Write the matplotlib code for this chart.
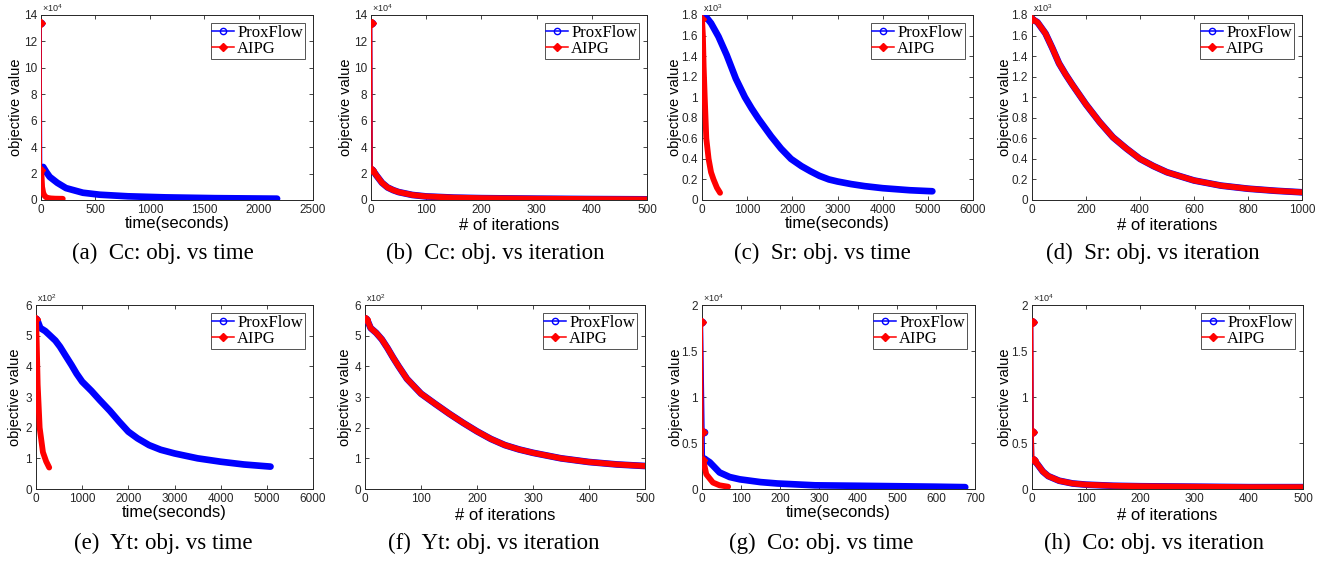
"""
Objective value vs time / iterations for ProxFlow and AIPG on four datasets.
"""
import matplotlib
matplotlib.use("Agg")
import matplotlib.pyplot as plt
from matplotlib.ticker import FuncFormatter

plt.rcParams.update(
    {
        "font.family": "sans-serif",
        "font.sans-serif": ["Liberation Sans", "DejaVu Sans"],
        "mathtext.fontset": "custom",
        "mathtext.rm": "Liberation Sans",
        "axes.linewidth": 0.7,
        "axes.edgecolor": "#262626",
        "xtick.color": "#262626",
        "ytick.color": "#262626",
    }
)

# ---- data ----
# (a) Cc, time (x10^4)
CC_TIME_PF_X = [0, 5, 20, 50, 80, 150, 230, 385, 540, 800, 1140, 1600, 2170]
CC_TIME_PF_Y = [13.4, 2.4, 2.5, 2.1, 1.75, 1.3, 0.9, 0.55, 0.4, 0.28, 0.2, 0.14, 0.1]
CC_TIME_AIPG_X = [0, 2, 5, 10, 20, 30, 45, 60, 90, 130, 200]
CC_TIME_AIPG_Y = [13.4, 2.3, 1.8, 1.0, 0.55, 0.35, 0.22, 0.16, 0.12, 0.1, 0.09]

# (b) Cc, iterations (x10^4)
CC_ITER_X = [1, 2, 5, 10, 20, 30, 40, 50, 75, 100, 150, 200, 300, 400, 500]
CC_ITER_PF_Y = [13.4, 2.3, 2.15, 1.85, 1.3, 0.95, 0.75, 0.6, 0.38, 0.27, 0.18, 0.14, 0.1, 0.07, 0.05]
CC_ITER_AIPG_Y = [13.4, 2.3, 2.15, 1.85, 1.3, 0.95, 0.75, 0.6, 0.38, 0.27, 0.18, 0.14, 0.1, 0.07, 0.05]

# (c) Sr, time (x10^3)
SR_TIME_PF_X = [20, 110, 200, 365, 547, 750, 950, 1100, 1250, 1530, 1750, 1970, 2200,
                2400, 2600, 2810, 3000, 3300, 3600, 4000, 4300, 4600, 5100]
SR_TIME_PF_Y = [1.77, 1.77, 1.72, 1.59, 1.41, 1.18, 1.0, 0.89, 0.79, 0.62, 0.5, 0.4, 0.33,
                0.28, 0.235, 0.2, 0.18, 0.155, 0.135, 0.115, 0.105, 0.095, 0.085]
SR_TIME_AIPG_X = [0, 20, 36, 60, 95, 146, 200, 255, 330, 400]
SR_TIME_AIPG_Y = [1.76, 1.6, 1.3, 1.0, 0.6, 0.4, 0.27, 0.2, 0.12, 0.07]

# (d) Sr, iterations (x10^3)
SR_ITER_X = [1, 20, 50, 75, 100, 125, 150, 200, 250, 300, 350, 400, 450, 500, 600, 700, 800, 900, 1000]
SR_ITER_PF_Y = [1.76, 1.73, 1.62, 1.48, 1.33, 1.22, 1.12, 0.93, 0.76, 0.61, 0.5, 0.40, 0.33, 0.27,
                0.19, 0.14, 0.11, 0.09, 0.075]
SR_ITER_AIPG_Y = [1.76, 1.73, 1.62, 1.48, 1.33, 1.22, 1.12, 0.93, 0.76, 0.61, 0.5, 0.40, 0.33, 0.27,
                  0.19, 0.14, 0.11, 0.09, 0.075]

# (e) Yt, time (x10^2)
YT_TIME_PF_X = [0, 30, 93, 200, 307, 420, 520, 640, 770, 880, 1000, 1200, 1380, 1600, 1800,
                2000, 2200, 2450, 2700, 3000, 3500, 4000, 4500, 5080]
YT_TIME_PF_Y = [5.55, 5.5, 5.25, 5.15, 5.0, 4.84, 4.64, 4.35, 4.04, 3.76, 3.5, 3.2, 2.9, 2.55, 2.2,
                1.87, 1.65, 1.43, 1.28, 1.16, 1.0, 0.89, 0.8, 0.73]
YT_TIME_AIPG_X = [0, 15, 36, 79, 150, 220, 286]
YT_TIME_AIPG_Y = [5.55, 4.8, 3.4, 2.0, 1.2, 0.9, 0.7]

# (f) Yt, iterations (x10^2)
YT_ITER_X = [1, 5, 10, 20, 30, 40, 50, 60, 75, 100, 125, 150, 175, 200, 225, 250, 275, 300,
             350, 400, 450, 500]
YT_ITER_PF_Y = [5.55, 5.47, 5.25, 5.09, 4.88, 4.6, 4.29, 4.0, 3.59, 3.11, 2.78, 2.46, 2.16, 1.88,
                1.63, 1.43, 1.29, 1.18, 1.0, 0.88, 0.8, 0.75]
YT_ITER_AIPG_Y = [5.55, 5.47, 5.25, 5.09, 4.88, 4.6, 4.29, 4.0, 3.59, 3.11, 2.78, 2.46, 2.16, 1.88,
                  1.63, 1.43, 1.29, 1.18, 1.0, 0.88, 0.8, 0.75]

# (g) Co, time (x10^4)
CO_TIME_PF_X = [1, 5, 6, 20, 45, 71, 97, 150, 193, 290, 400, 500, 600, 675]
CO_TIME_PF_Y = [1.82, 0.62, 0.33, 0.29, 0.18, 0.13, 0.105, 0.075, 0.06, 0.04, 0.035, 0.03, 0.025, 0.02]
CO_TIME_AIPG_X = [0.5, 2.5, 3, 11, 28, 45, 67]
CO_TIME_AIPG_Y = [1.82, 0.62, 0.32, 0.16, 0.07, 0.04, 0.025]

# (h) Co, iterations (x10^4)
CO_ITER_X = [1, 2, 3, 10, 20, 30, 50, 75, 100, 150, 200, 300, 400, 500]
CO_ITER_PF_Y = [1.82, 0.62, 0.32, 0.27, 0.19, 0.14, 0.09, 0.06, 0.047, 0.035, 0.03, 0.025, 0.02, 0.02]
CO_ITER_AIPG_Y = [1.82, 0.62, 0.32, 0.27, 0.19, 0.14, 0.09, 0.06, 0.047, 0.035, 0.03, 0.025, 0.02, 0.02]

CAPTIONS = [
    "(a)  Cc: obj. vs time", "(b)  Cc: obj. vs iteration",
    "(c)  Sr: obj. vs time", "(d)  Sr: obj. vs iteration",
    "(e)  Yt: obj. vs time", "(f)  Yt: obj. vs iteration",
    "(g)  Co: obj. vs time", "(h)  Co: obj. vs iteration",
]

W, H = 1324, 561
BLUE, RED = "#0000ff", "#ff0000"


def px_axes(fig, left, top, right, bottom):
    return fig.add_axes([left / W, (H - bottom) / H, (right - left) / W, (bottom - top) / H])


def draw_series(ax, x, y, color, marker, n_sparse, lw_band, label, mfc):
    ax.plot(x, y, color=color, lw=1.1, marker=marker, ms=4.5, mfc=mfc, mew=1.0,
            markevery=list(range(max(n_sparse, 1))), label=label, zorder=3)
    start = max(n_sparse - 1, 0)
    ax.plot(x[start:], y[start:], color=color, lw=lw_band, solid_capstyle="round",
            solid_joinstyle="round", zorder=3)


def style_axes(ax, xmax, xstep, ymax, ystep, exp_text):
    ax.set_xlim(0, xmax)
    ax.set_ylim(0, ymax)
    nx = int(round(xmax / xstep))
    ny = int(round(ymax / ystep))
    ax.set_xticks([i * xstep for i in range(nx + 1)])
    ax.set_yticks([round(i * ystep, 6) for i in range(ny + 1)])
    ax.yaxis.set_major_formatter(FuncFormatter(lambda v, p: f"{v:g}"))
    ax.xaxis.set_major_formatter(FuncFormatter(lambda v, p: f"{v:g}"))
    ax.tick_params(direction="in", top=True, right=True, length=3, width=0.6,
                   labelsize=8.5, pad=3)
    ax.text(0.005, 1.004, exp_text, transform=ax.transAxes, fontsize=6.5,
            ha="left", va="bottom", color="#262626")
    leg = ax.legend(loc="upper right", prop={"family": "Liberation Serif", "size": 12},
                    frameon=True, fancybox=False, edgecolor="#262626",
                    handlelength=1.3, handletextpad=0.2, borderpad=0.1,
                    labelspacing=0.0, borderaxespad=0.5)
    leg.get_frame().set_linewidth(0.7)


fig = plt.figure(figsize=(W / 100, H / 100), dpi=100)

# axes boxes in pixels: left, top, right, bottom
BOXES = [
    (41, 15, 313, 200), (371, 15, 647, 200), (702, 15, 973, 200), (1032, 15, 1302, 200),
    (36, 305, 313, 489), (365, 305, 645, 489), (702, 305, 975, 489), (1032, 305, 1303, 489),
]
XLAB_OFF = [24, 26, 24, 26, 24, 26, 24, 26]
YLAB_OFF = [25, 25, 27, 27, 21, 20, 26, 27]
CAP_X = [163, 495, 822, 1153, 163, 494, 821, 1154]
CAP_Y = [253, 253, 253, 253, 543, 543, 543, 543]

axes = [px_axes(fig, *b) for b in BOXES]

panels = [
    (CC_TIME_PF_X, CC_TIME_PF_Y, 2, CC_TIME_AIPG_X, CC_TIME_AIPG_Y, 2,
     2500, 500, 14, 2, r"$\times10^{4}$", "time(seconds)"),
    (CC_ITER_X, CC_ITER_PF_Y, 2, CC_ITER_X, CC_ITER_AIPG_Y, 2,
     500, 100, 14, 2, r"$\times10^{4}$", "# of iterations"),
    (SR_TIME_PF_X, SR_TIME_PF_Y, 0, SR_TIME_AIPG_X, SR_TIME_AIPG_Y, 0,
     6000, 1000, 1.8, 0.2, r"x10$^{3}$", "time(seconds)"),
    (SR_ITER_X, SR_ITER_PF_Y, 0, SR_ITER_X, SR_ITER_AIPG_Y, 0,
     1000, 200, 1.8, 0.2, r"x10$^{3}$", "# of iterations"),
    (YT_TIME_PF_X, YT_TIME_PF_Y, 0, YT_TIME_AIPG_X, YT_TIME_AIPG_Y, 0,
     6000, 1000, 6, 1, r"x10$^{2}$", "time(seconds)"),
    (YT_ITER_X, YT_ITER_PF_Y, 0, YT_ITER_X, YT_ITER_AIPG_Y, 0,
     500, 100, 6, 1, r"x10$^{2}$", "# of iterations"),
    (CO_TIME_PF_X, CO_TIME_PF_Y, 3, CO_TIME_AIPG_X, CO_TIME_AIPG_Y, 3,
     700, 100, 2, 0.5, r"$\times10^{4}$", "time(seconds)"),
    (CO_ITER_X, CO_ITER_PF_Y, 3, CO_ITER_X, CO_ITER_AIPG_Y, 3,
     500, 100, 2, 0.5, r"$\times10^{4}$", "# of iterations"),
]

for i, (ax, p) in enumerate(zip(axes, panels)):
    px, py, pn, ax_, ay, an, xmax, xstep, ymax, ystep, exp_text, xlabel = p
    draw_series(ax, px, py, BLUE, "o", pn, 4.8, "ProxFlow", "none")
    draw_series(ax, ax_, ay, RED, "D", an, 4.2, "AIPG", RED)
    style_axes(ax, xmax, xstep, ymax, ystep, exp_text)

    left, top, right, bottom = BOXES[i]
    hpx, wpx = bottom - top, right - left
    ax.set_xlabel(xlabel, fontsize=12, va="center")
    ax.xaxis.set_label_coords(0.5, -XLAB_OFF[i] / hpx)
    ax.set_ylabel("objective value", fontsize=10.5, va="center")
    ax.yaxis.set_label_coords(-YLAB_OFF[i] / wpx, 0.5)

    fig.text(CAP_X[i] / W, 1 - CAP_Y[i] / H, CAPTIONS[i], family="Liberation Serif",
             fontsize=16.5, ha="center", va="center")

fig.savefig("out.png", dpi=100)
